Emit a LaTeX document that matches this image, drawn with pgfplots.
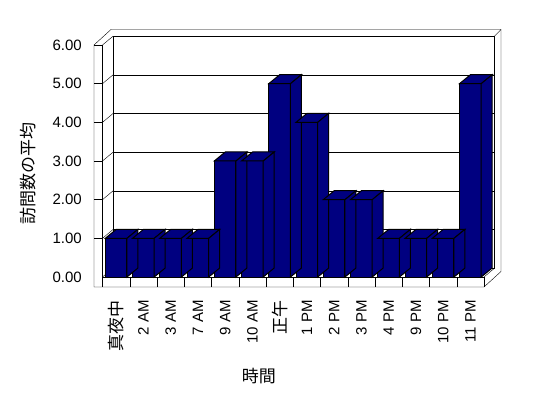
\documentclass[border=0pt]{standalone}
\usepackage{fontspec}
\setmainfont{Liberation Sans}
\newfontfamily\jp{Noto Sans CJK JP}
\usepackage{pgfplots}
\usepackage{pgfplotstable}
\pgfplotsset{compat=1.18}
\usetikzlibrary{calc}
\definecolor{barblue}{HTML}{000080}

\pgfplotstableread{
idx val
0 1
1 1
2 1
3 1
4 3
5 3
6 5
7 4
8 2
9 2
10 1
11 1
12 1
13 5
}\visits

\newcommand{\jpl}[1]{{\fontsize{17bp}{20bp}\selectfont\jp #1}}

\begin{document}
\begin{tikzpicture}[line width=1bp]
\useasboundingbox (0,0) rectangle (548bp,398bp);
\begin{axis}[
  at={(102.5bp,121bp)}, anchor=south west,
  x=27.25bp, y=38.667bp,
  xmin=-0.5, xmax=13.5, ymin=0, ymax=6,
  clip=false,
  axis line style={draw=none},
  tick style={draw=none},
  ytick={0,1,...,6},
  xtick={0,...,13},
  xticklabels={\jpl{真夜中},2 AM,3 AM,7 AM,9 AM,10 AM,\jpl{正午},1 PM,2 PM,3 PM,4 PM,9 PM,10 PM,11 PM},
  /pgf/number format/assume math mode=true,
  yticklabel={\pgfmathprintnumber[fixed,fixed zerofill,precision=2]{\tick}},
  ticklabel style={font=\fontsize{15bp}{18bp}\selectfont},
  yticklabel style={anchor=east, inner sep=0pt},
  yticklabel shift=20.5bp,
  xticklabel style={rotate=90, anchor=east, inner sep=0pt},
  xticklabel shift=23bp,
  ylabel={\jpl{訪問数の平均}},
  ylabel style={at={(axis description cs:-0.195,0.444)}, anchor=center},
  xlabel={\jpl{時間}},
  xlabel style={at={(axis description cs:0.41,-0.427)}, anchor=center},
]
% back wall grid lines
\pgfplotsinvokeforeach{0,...,6}{
  \draw[black] ($(axis cs:-0.5,#1)+(10.5bp,8.8bp)$) -- ($(axis cs:13.5,#1)+(10.5bp,8.8bp)$);
  \draw[black] (axis cs:-0.5,#1) -- ($(axis cs:-0.5,#1)+(10.5bp,8.8bp)$);
}
\pgfplotsinvokeforeach{1,...,6}{
  \draw[black] ($(axis cs:-0.5,#1)+(-8.5bp,0bp)$) -- (axis cs:-0.5,#1);
}
\draw[black] ($(axis cs:-0.5,0)+(10.5bp,8.8bp)$) -- ($(axis cs:-0.5,6)+(10.5bp,8.8bp)$);
\draw[black] ($(axis cs:13.5,0)+(10.5bp,8.8bp)$) -- ($(axis cs:13.5,6)+(10.5bp,8.8bp)$);
\draw[black] (axis cs:-0.5,0) -- (axis cs:-0.5,6);
% outer outline
\draw[black,line join=miter]
  ($(axis cs:-0.5,6)+(-8.5bp,0bp)$) -- ($(axis cs:-0.5,6)+(8.5bp,15.5bp)$)
  -- ($(axis cs:13.5,6)+(17bp,15.5bp)$) -- ($(axis cs:13.5,0)+(17bp,5.5bp)$)
  -- ($(axis cs:13.5,0)+(0bp,-10bp)$) -- ($(axis cs:-0.5,0)+(-8.5bp,-10bp)$) -- cycle;
\draw[black] ($(axis cs:13.5,6)+(10.5bp,8.8bp)$) -- ($(axis cs:13.5,6)+(17bp,15.5bp)$);
% floor
\draw[black] (axis cs:-0.5,0) -- (axis cs:13.5,0);
\draw[black] (axis cs:13.5,0) -- ($(axis cs:13.5,0)+(10.5bp,8.8bp)$);
\pgfplotsinvokeforeach{0,...,14}{
  \draw[black] (axis cs:#1-0.5,0) -- ($(axis cs:#1-0.5,0)+(0bp,-10bp)$);
}
% bar tops and sides
\addplot[
  only marks, scatter, mark=*, mark size=0pt, color=barblue,
  visualization depends on={rawy \as \bv},
  scatter/@pre marker code/.code={%
    \pgfmathsetmacro\hh{\bv*38.667}%
    \filldraw[fill=barblue,draw=black,line width=1bp,line join=miter] (-10.85bp,0pt) -- ++(11bp,9bp) -- ++(21.7bp,0pt) -- ++(-11bp,-9bp) -- cycle;
    \filldraw[fill=barblue,draw=black,line width=1bp,line join=miter] (10.85bp,0pt) -- ++(11bp,9bp) -- ++(0pt,-\hh bp) -- ++(-11bp,-9bp) -- cycle;
  },
  scatter/@post marker code/.code={},
] table[x=idx,y=val] {\visits};
% bar fronts
\addplot[ybar, bar shift=0pt, bar width=21.7bp, fill=barblue, draw=black, line width=1bp]
  table[x=idx,y=val] {\visits};
\end{axis}
\end{tikzpicture}
\end{document}
